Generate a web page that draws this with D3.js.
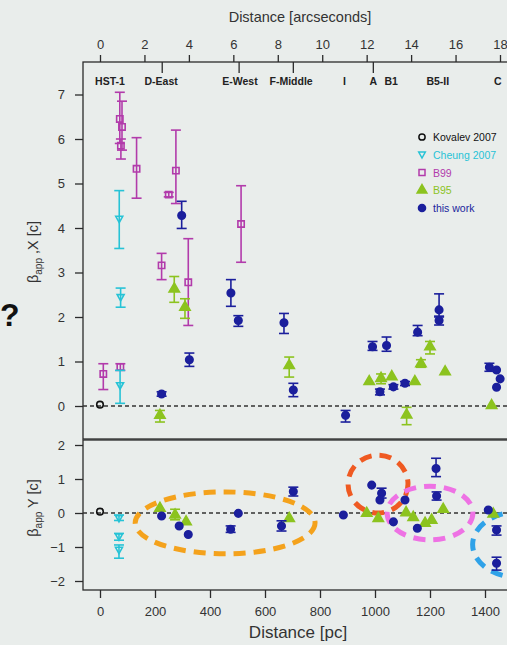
<!DOCTYPE html>
<html><head><meta charset="utf-8">
<script src="https://cdn.jsdelivr.net/npm/d3@7"></script>
<style>
body{margin:0;background:#e9edeb;}
svg{display:block;font-family:"Liberation Sans",Arial,Helvetica,sans-serif;}
</style>
</head><body>
<svg id="c" width="507" height="645"></svg>
<script>
// ---------- data ----------
const pcTicks = [0, 200, 400, 600, 800, 1000, 1200, 1400];
const arcsecTicks = [0, 2, 4, 6, 8, 10, 12, 14, 16, 18];
const yTopTicks = [0, 1, 2, 3, 4, 5, 6, 7];
const yBotTicks = [-2, -1, 0, 1, 2];
const regionNames = ["HST-1", "D-East", "E-West", "F-Middle", "I", "A", "B1", "B5-II", "C"];
const regionArcsec = [0.45, 2.75, 6.3, 8.6, 11.0, 12.3, 13.1, 15.2, 17.9];
const regionTickArcsec = [2.8, 6.26, 8.7, 12.3];
const legendNames = ["Kovalev 2007", "Cheung 2007", "B99", "B95", "this work"];

// [distance pc, beta, low, high]
const kovalevX = [[0, 0.03]];
const cheungX = [[70, 4.2, 3.54, 4.84], [75, 2.44, 2.22, 2.65], [73, 0.46, 0.06, 0.80]];
const b99X = [[12, 0.72, 0.37, 0.95], [74, 0.88, 0.80, 0.95], [72, 6.45, 5.9, 7.05],
  [80, 6.27, 5.75, 6.85], [76, 5.85, 5.55, 6.0], [133, 5.33, 4.67, 6.03],
  [250, 4.75, 4.7, 4.8], [276, 5.29, 4.55, 6.2], [224, 3.16, 2.84, 3.43],
  [321, 2.78, 1.81, 3.76], [513, 4.09, 3.23, 4.95]];
const b95X = [[218, -0.21, -0.36, -0.1], [270, 2.63, 2.33, 2.91], [309, 2.22, 1.97, 2.41],
  [688, 0.91, 0.65, 1.10], [979, 0.55], [1022, 0.62, 0.5, 0.72], [1061, 0.66],
  [1145, 0.55], [1115, -0.2, -0.42, -0.03], [1167, 0.95, 0.87, 1.04],
  [1200, 1.33, 1.17, 1.45], [1255, 0.77], [1424, 0.01]];
const thisWorkX = [[224, 0.27, 0.22, 0.32], [297, 4.28, 3.99, 4.6], [325, 1.04, 0.89, 1.19],
  [476, 2.54, 2.24, 2.84], [503, 1.92, 1.79, 2.03], [669, 1.87, 1.63, 2.08],
  [703, 0.36, 0.21, 0.51], [893, -0.21, -0.36, -0.1], [991, 1.33, 1.25, 1.45],
  [1042, 1.36, 1.23, 1.55], [1018, 0.32, 0.25, 0.38], [1067, 0.43, 0.38, 0.48],
  [1109, 0.51, 0.46, 0.55], [1155, 1.66, 1.58, 1.81], [1233, 2.16, 2.0, 2.52],
  [1233, 1.92, 1.82, 2.02], [1416, 0.87, 0.78, 0.96], [1442, 0.81], [1455, 0.61], [1442, 0.42]];

const kovalevY = [[0, 0.04]];
const cheungY = [[69, -0.16, -0.22, -0.06], [69, -0.7, -0.8, -0.6], [69, -1.09, -1.33, -0.94]];
const b95Y = [[218, 0.14], [273, -0.06, -0.2, 0.11], [313, -0.26], [688, -0.16], [970, -0.01],
  [1012, -0.16], [1113, 0.01], [1139, -0.13], [1182, -0.3], [1206, -0.21], [1248, 0.11], [1430, -0.03]];
const thisWorkY = [[224, -0.09], [288, -0.38], [321, -0.63], [503, -0.01], [475, -0.48, -0.57, -0.38],
  [703, 0.63, 0.5, 0.76], [660, -0.38, -0.53, -0.23], [885, -0.06], [988, 0.82],
  [1024, 0.58, 0.44, 0.73], [1018, 0.38], [1067, -0.26], [1109, 0.38], [1154, -0.45],
  [1222, 1.31, 1.07, 1.61], [1224, 0.5, 0.38, 0.62], [1412, 0.09], [1442, -0.5, -0.65, -0.38],
  [1442, -1.48, -1.68, -1.3]];

// annotation ellipses in data units: [center pc, center beta], [radius pc, radius beta]
const ellipseCenters = [[455, -0.29], [1011, 0.85], [1200, 0.0], [1525, -0.93]];
const ellipseRadii = [[327, 0.91], [109, 0.85], [156, 0.79], [170, 0.97]];
const ellipseColors = ["#f4a21c", "#ef5a22", "#ee72e4", "#2fa2e8"];

// ---------- layout ----------
const svg = d3.select("#c");
const W = 507, H = 645;
const left = 83, right = 600;
const topY0 = 62, topY1 = 439, botY0 = 440, botY1 = 590;

const xPc = d3.scaleLinear().domain([0, 1400]).range([100, 485]);
const xAs = d3.scaleLinear().domain([0, 18]).range([100, 500]);
const yTop = d3.scaleLinear().domain([0, 7]).range([406, 94.5]);
const yBot = d3.scaleLinear().domain([-2, 2]).range([581, 445]);

const ink = "#2b2b2b";
const colors = { kov: "#111111", cheung: "#27c3d6", b99: "#b23bab", b95: "#8cc31f", tw: "#1b1f9c" };
const fmt = d3.format("d");

svg.append("rect").attr("width", W).attr("height", H).attr("fill", "#e9edeb");

// panel boxes
svg.append("rect").attr("x", left).attr("y", topY0).attr("width", right - left).attr("height", topY1 - topY0)
  .attr("fill", "none").attr("stroke", ink).attr("stroke-width", 1.3);
svg.append("rect").attr("x", left).attr("y", botY0).attr("width", right - left).attr("height", botY1 - botY0)
  .attr("fill", "none").attr("stroke", ink).attr("stroke-width", 1.3);

// zero lines
[yTop, yBot].forEach(ys => {
  svg.append("line").attr("x1", left).attr("x2", W).attr("y1", ys(0)).attr("y2", ys(0))
    .attr("stroke", "#333").attr("stroke-width", 1.6).attr("stroke-dasharray", "4,3");
});

// axes
const axStyle = g => {
  g.selectAll("line").attr("stroke", ink).attr("stroke-width", 1.3);
  g.selectAll("text").attr("fill", "#333").attr("font-size", 13).attr("font-family", "Liberation Sans, Arial, sans-serif");
  g.select("path.domain").remove();
};
svg.append("g").attr("transform", `translate(0,${topY0})`)
  .call(d3.axisTop(xAs).tickValues(arcsecTicks).tickFormat(fmt).tickSize(7).tickPadding(6))
  .call(axStyle);
svg.append("g").attr("transform", `translate(0,${botY1})`)
  .call(d3.axisBottom(xPc).tickValues(pcTicks).tickFormat(fmt).tickSize(8).tickPadding(9))
  .call(axStyle);
svg.append("g").attr("transform", `translate(${left},0)`)
  .call(d3.axisLeft(yTop).tickValues(yTopTicks).tickFormat(fmt).tickSize(8).tickPadding(10))
  .call(axStyle);
svg.append("g").attr("transform", `translate(${left},0)`)
  .call(d3.axisLeft(yBot).tickValues(yBotTicks).tickFormat(fmt).tickSize(8).tickPadding(10))
  .call(axStyle);

// axis titles
svg.append("text").attr("x", 300).attr("y", 22).attr("text-anchor", "middle")
  .attr("font-size", 14.5).attr("fill", "#333").text("Distance [arcseconds]");
svg.append("text").attr("x", 298).attr("y", 638).attr("text-anchor", "middle")
  .attr("font-size", 17).attr("fill", "#333").text("Distance [pc]");
function yTitle(cy, comp) {
  const t = svg.append("text").attr("transform", `translate(38,${cy}) rotate(-90)`)
    .attr("text-anchor", "middle").attr("font-size", 14.5).attr("fill", "#333");
  t.append("tspan").text("β");
  t.append("tspan").attr("font-size", 10).attr("dy", 4).text("app");
  t.append("tspan").attr("dy", -4).text(comp + " [c]");
}
yTitle(252, " ,X");
yTitle(508, " Y");

// stray "?" at left edge
svg.append("text").attr("x", 0).attr("y", 326).attr("font-size", 32).attr("font-weight", "bold")
  .attr("fill", "#111").text("?");

// region labels and ticks
svg.selectAll(".rtick").data(regionTickArcsec).join("line")
  .attr("x1", d => xAs(d)).attr("x2", d => xAs(d)).attr("y1", topY0).attr("y2", topY0 + 11)
  .attr("stroke", ink).attr("stroke-width", 1.3);
svg.selectAll(".rlab").data(regionNames).join("text")
  .attr("x", (d, i) => xAs(regionArcsec[i])).attr("y", 85).attr("text-anchor", "middle")
  .attr("font-size", 10.5).attr("font-weight", "bold").attr("fill", "#222").text(d => d);

// ellipses (lower panel annotations)
ellipseCenters.forEach((c, i) => {
  const cx = xPc(c[0]), cy = yBot(c[1]);
  const rx = xPc(c[0] + ellipseRadii[i][0]) - cx;
  const ry = cy - yBot(c[1] + ellipseRadii[i][1]);
  svg.append("ellipse").attr("cx", cx).attr("cy", cy).attr("rx", rx).attr("ry", ry)
    .attr("fill", "none").attr("stroke", ellipseColors[i]).attr("stroke-width", 5)
    .attr("stroke-dasharray", "12,8");
});

// markers
const symDown = { draw(ctx, size) { const s = Math.sqrt(size) * 1.1; ctx.moveTo(-s / 2, -s * 0.4); ctx.lineTo(s / 2, -s * 0.4); ctx.lineTo(0, s * 0.5); ctx.closePath(); } };
const markers = {
  kov: { type: d3.symbolCircle, size: 34, fill: "none" },
  cheung: { type: symDown, size: 40, fill: "none" },
  b99: { type: d3.symbolSquare, size: 40, fill: "none" },
  b95: { type: d3.symbolTriangle, size: 46, fill: "solid" },
  tw: { type: d3.symbolCircle, size: 44, fill: "solid" }
};
function plot(data, key, ys) {
  const col = colors[key], m = markers[key];
  const g = svg.append("g");
  data.forEach(d => {
    const x = xPc(d[0]);
    if (d.length > 2) {
      g.append("line").attr("x1", x).attr("x2", x).attr("y1", ys(d[2])).attr("y2", ys(d[3]))
        .attr("stroke", col).attr("stroke-width", 1.6);
      [d[2], d[3]].forEach(v => g.append("line").attr("x1", x - 5).attr("x2", x + 5)
        .attr("y1", ys(v)).attr("y2", ys(v)).attr("stroke", col).attr("stroke-width", 1.6));
    }
    g.append("path").attr("d", d3.symbol().type(m.type).size(m.size)())
      .attr("transform", `translate(${x},${ys(d[1])})`)
      .attr("fill", m.fill === "solid" ? col : "none")
      .attr("stroke", col).attr("stroke-width", 1.6);
  });
}
plot(b99X, "b99", yTop);
plot(cheungX, "cheung", yTop);
plot(kovalevX, "kov", yTop);
plot(b95X, "b95", yTop);
plot(thisWorkX, "tw", yTop);
plot(cheungY, "cheung", yBot);
plot(kovalevY, "kov", yBot);
plot(b95Y, "b95", yBot);
plot(thisWorkY, "tw", yBot);

// legend
const legKeys = ["kov", "cheung", "b99", "b95", "tw"];
const legY = d3.scalePoint().domain(legendNames).range([137, 208]);
legendNames.forEach((n, i) => {
  const k = legKeys[i], m = markers[k];
  svg.append("path").attr("d", d3.symbol().type(m.type).size(m.size * 0.9)())
    .attr("transform", `translate(422,${legY(n)})`)
    .attr("fill", m.fill === "solid" ? colors[k] : "none").attr("stroke", colors[k]).attr("stroke-width", 1.5);
  svg.append("text").attr("x", 433).attr("y", legY(n) + 4).attr("font-size", 10.5)
    .attr("fill", colors[k]).text(n);
});
</script>
</body></html>
